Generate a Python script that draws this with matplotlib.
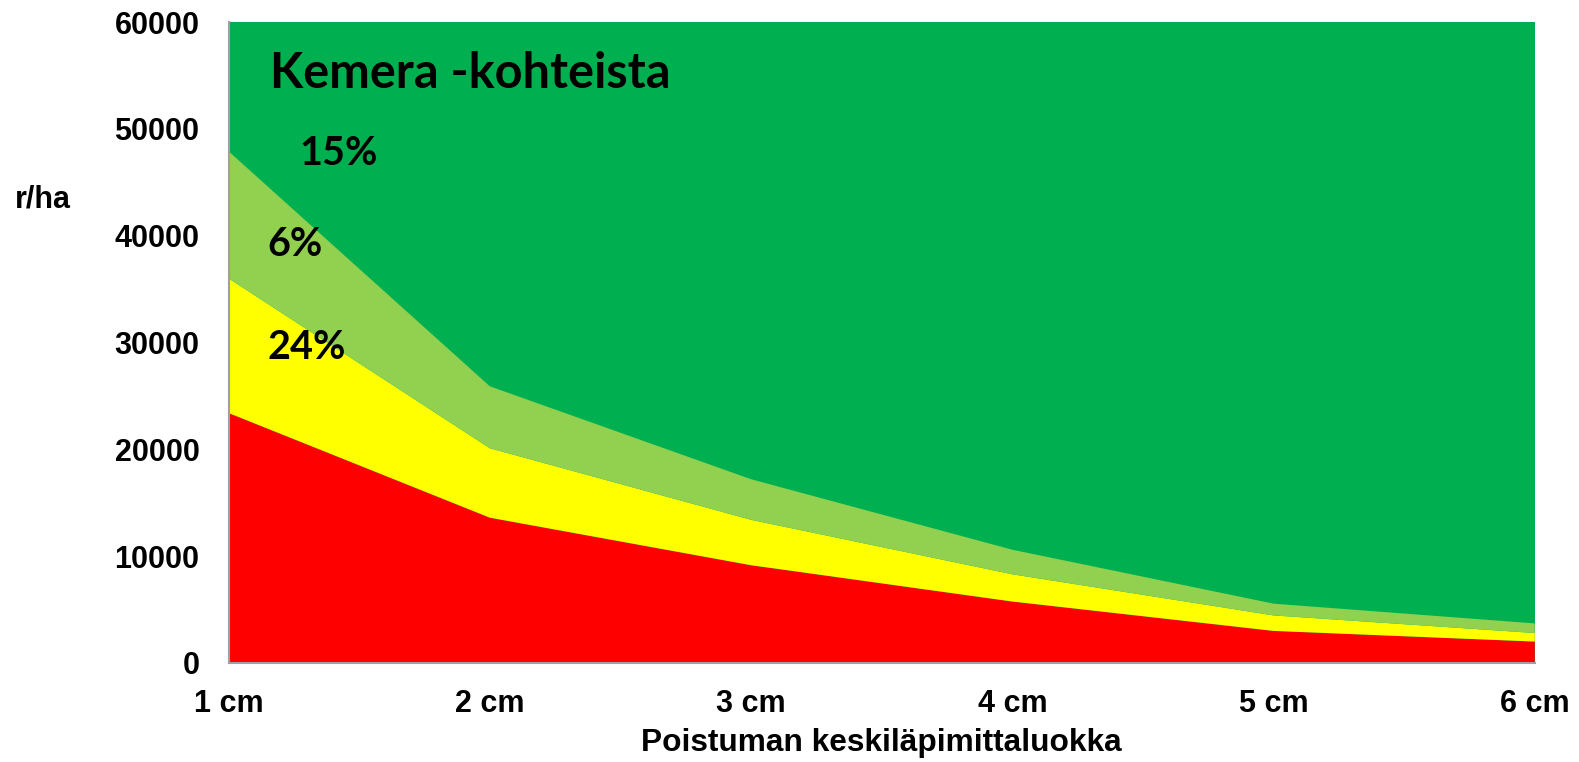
import numpy as np
import matplotlib.pyplot as plt

# tree diameter classes and stacked stems per hectare
classes = [1, 2, 3, 4, 5, 6]
class_labels = ['1 cm', '2 cm', '3 cm', '4 cm', '5 cm', '6 cm']
red_vals = [23400, 13600, 9150, 5750, 3000, 2000]
yellow_vals = [12600, 6500, 4250, 2550, 1450, 800]
lightgreen_vals = [11900, 5800, 3800, 2300, 1100, 900]

colors = ['#ff0000', '#ffff00', '#92d050']
bg_green = '#00b050'

pct_labels = ['15%', '6%', '24%']
pct_pos = [(1.27, 47700), (1.15, 39200), (1.15, 29500)]

fig = plt.figure(figsize=(15.79, 7.62), dpi=100)
ax = fig.add_axes([0.1448, 0.130, 0.8272, 0.841])
ax.set_facecolor(bg_green)

ax.stackplot(classes, red_vals, yellow_vals, lightgreen_vals, colors=colors, linewidth=0)

ax.set_xlim(1, 6)
ax.set_ylim(0, 60000)
ax.set_xticks(classes)
ax.set_xticklabels(class_labels)
ax.set_yticks(np.arange(0, 60001, 10000))
ax.tick_params(length=0, labelsize=22)
ax.tick_params(axis='x', pad=19)
ax.tick_params(axis='y', pad=21)
for lbl in ax.get_xticklabels() + ax.get_yticklabels():
    lbl.set_fontweight('bold')
    lbl.set_fontfamily('Liberation Sans')

for side in ['top', 'right']:
    ax.spines[side].set_visible(False)
for side in ['left', 'bottom']:
    ax.spines[side].set_color('#a0a0a0')
    ax.spines[side].set_linewidth(1.5)

ax.set_xlabel('Poistuman keskiläpimittaluokka', fontsize=22.8, fontweight='bold',
              family='Liberation Sans', labelpad=6)
fig.text(0.0095, 0.738, 'r/ha', fontsize=22, fontweight='bold', family='Liberation Sans',
         ha='left', va='center')

ax.text(1.158, 55150, 'Kemera -kohteista', fontsize=35, fontweight='bold', family='Lato',
        ha='left', va='center', color='black')
for txt, (x, y) in zip(pct_labels, pct_pos):
    ax.text(x, y, txt, fontsize=28.5, fontweight='bold', family='Lato', ha='left', va='center')

fig.savefig('out.png', dpi=100)
